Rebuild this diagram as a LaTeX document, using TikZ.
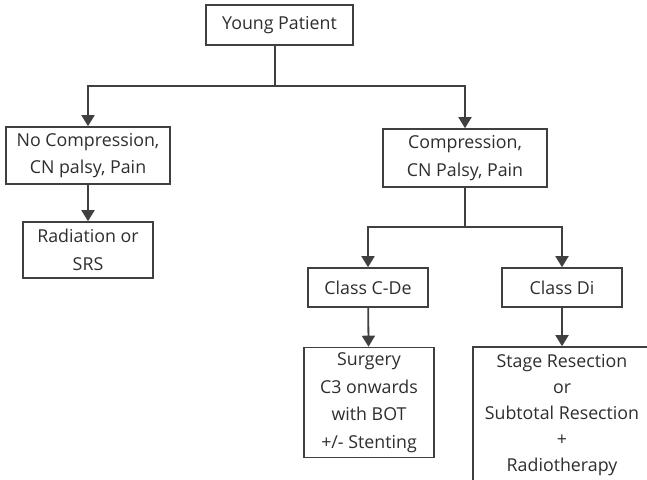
\documentclass[tikz,border=0pt]{standalone}
\usepackage{fontspec}
\setmainfont{Open Sans}
\usetikzlibrary{arrows.meta}
\definecolor{ink}{HTML}{404040}
\definecolor{txt}{HTML}{2E2E2E}
\tikzset{
  box/.style={draw=ink, line width=1.6pt, fill=white, align=center,
    text=txt, inner sep=0pt, font=\fontsize{17.8}{27.5}\selectfont},
  link/.style={draw=ink, line width=1.8pt},
  arr/.style={link, -{Triangle[length=11pt,width=13pt]}}
}
\begin{document}
\begin{tikzpicture}[x=1pt,y=1pt]
\useasboundingbox (0,0) rectangle (647,-479);
\clip (0,0) rectangle (647,-479);

% boxes
\node[box, minimum width=147, minimum height=40] (yp) at (279.5,-25) {Young Patient};
\node[box, minimum width=164, minimum height=57] (nc) at (88,-155.5) {No Compression,\\CN palsy, Pain};
\node[box, minimum width=130, minimum height=56] (rad) at (88,-250) {Radiation or\\SRS};
\node[box, minimum width=164, minimum height=58] (cp) at (465,-158) {Compression,\\CN Palsy, Pain};
\node[box, minimum width=120, minimum height=39] (cde) at (368,-287.5) {Class C-De};
\node[box, minimum width=120, minimum height=39] (cdi) at (562,-287.5) {Class Di};
\node[box, minimum width=130, minimum height=110] (sur) at (369,-402.5) {Surgery\\C3 onwards\\with BOT\\+/- Stenting};
\node[box, minimum width=178, minimum height=136,
      font=\fontsize{17.8}{26.2}\selectfont] (stg) at (562,-415) {Stage Resection\\or\\Subtotal Resection\\+\\Radiotherapy};

% branch points
\coordinate (j1) at (275,-86);
\coordinate (j2) at (465,-227);

% connectors
\draw[link] (yp.south -| j1) -- (j1);
\draw[arr] (j1) -| (nc);
\draw[arr] (j1) -| (cp);
\draw[arr] (nc) -- (rad);
\draw[link] (cp) -- (j2);
\draw[arr] (j2) -| (cde);
\draw[arr] (j2) -| (cdi);
\draw[arr] (cde) -- (sur);
\draw[arr] (cdi) -- (stg);
\end{tikzpicture}
\end{document}
